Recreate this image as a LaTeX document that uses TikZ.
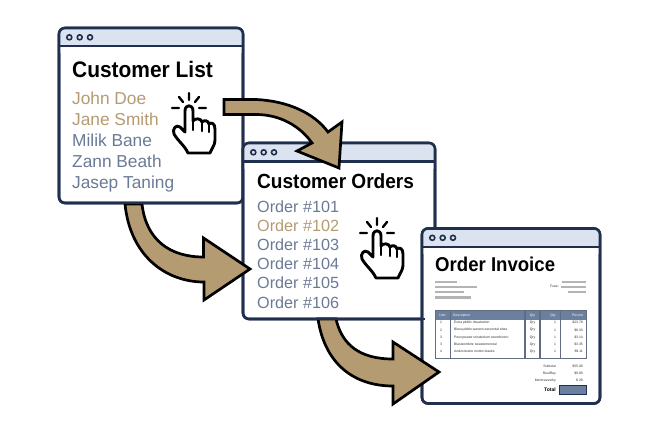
\documentclass[tikz,border=0pt]{standalone}
\usepackage{fontspec}
\setmainfont{Liberation Sans}
\newfontfamily\ttlfont[FakeStretch=0.93]{Liberation Sans}
\usetikzlibrary{calc}
\definecolor{navy}{HTML}{1F2F4D}
\definecolor{barc}{HTML}{DCE3F0}
\definecolor{tan}{HTML}{B59B72}
\definecolor{slate}{HTML}{6B7A96}
\definecolor{headc}{HTML}{6B7F9E}
\definecolor{greyb}{HTML}{B4B4B4}
\definecolor{sepc}{HTML}{5F6C82}
\tikzset{
  winbox/.style={draw=navy,line width=2.6pt,fill=white,rounded corners=6pt,inner sep=0pt,outer sep=0pt},
  barline/.style={draw=navy,line width=2.4pt},
  dotc/.style={draw=navy,line width=1.6pt,fill=barc},
  flow/.style={draw=black,line width=2.7pt,fill=tan,line join=miter,miter limit=6},
  ttl/.style={anchor=base west,inner sep=0pt,font=\ttlfont\fontsize{22.5}{22.5}\selectfont\bfseries},
  lst/.style={anchor=base west,inner sep=0pt,font=\fontsize{17.3}{17.3}\selectfont},
  ord/.style={anchor=base west,inner sep=0pt,font=\fontsize{16.2}{16.2}\selectfont},
  tiny/.style={inner sep=0pt,font=\fontsize{3.4}{3.4}\selectfont,text=black!80},
  greybar/.style={fill=greyb},
  hand/.pic={
    \draw[black,line width=2.9pt,line join=round,line cap=round,fill=white]
      (-4,6) .. controls (-4,-1) and (4,-1) .. (4,6) -- (4,16)
      .. controls (6,13) and (12,13) .. (13,17)
      .. controls (15,15) and (19,15) .. (20,19)
      .. controls (22,17) and (26,18) .. (26,24) -- (26,35)
      .. controls (26,40) and (23,43) .. (21,48) -- (-1,48)
      .. controls (-4,41) and (-11,36) .. (-15,29)
      .. controls (-17,24) and (-13,19) .. (-9,22) -- (-4,27) -- cycle;
    \draw[black,line width=2.4pt,line cap=round]
      (4,16) -- (4,25) (13,17) -- (13,26) (20,19) -- (20,27);
    \draw[black,line width=2.4pt,line cap=round]
      (0,-12) -- (0,-5) (-10,-8) -- (-6,-3) (10,-8) -- (6,-3) (-17,3) -- (-10,3) (10,3) -- (17,3);
  }
}
\newcommand{\winbar}[2]{%
  \fill[barc,rounded corners=6pt] (#1.north west) -- (#1.north east) -- ($(#1.north east)+(0,#2+6)$) [sharp corners] -- ($(#1.north west)+(0,#2+6)$) [rounded corners=6pt] -- cycle;
  \fill[white] ($(#1.north west)+(0,#2)$) rectangle ($(#1.north east)+(0,#2+7)$);
  \draw[barline] ($(#1.north west)+(0,#2)$) -- ($(#1.north east)+(0,#2)$);
  \draw[navy,line width=2.6pt,rounded corners=6pt] (#1.south west) rectangle (#1.north east);
  \draw[dotc] ($(#1.north west)+(10.3,9.3)$) circle (2.5);
  \draw[dotc] ($(#1.north west)+(20.7,9.3)$) circle (2.5);
  \draw[dotc] ($(#1.north west)+(31,9.3)$) circle (2.5);
}
\begin{document}
\begin{tikzpicture}[x=1pt,y=-1pt]
\useasboundingbox[fill=white] (0,0) rectangle (645,429);
% windows
\node[winbox,minimum width=184pt,minimum height=175pt] (w1) at (151,115.5) {};
\winbar{w1}{18}
\node[ttl] (t1) at (72,77) {Customer List};
\node[lst,text=tan] (n1) at (72,104) {John Doe};
\node[lst,text=tan] (n2) at (72,125) {Jane Smith};
\node[lst,text=slate] (n3) at (72,146) {Milik Bane};
\node[lst,text=slate] (n4) at (72,167) {Zann Beath};
\node[lst,text=slate] (n5) at (72,188) {Jasep Taning};
\pic (h1) at (189,105) {hand};

\node[winbox,minimum width=192pt,minimum height=176pt] (w2) at (339,231) {};
\winbar{w2}{18.5}
\node[ttl,font=\ttlfont\fontsize{20.5}{20.5}\selectfont\bfseries] (t2) at (257,188) {Customer Orders};
\node[ord,text=slate] (o1) at (257,212) {Order \#101};
\node[ord,text=tan] (o2) at (257,231) {Order \#102};
\node[ord,text=slate] (o3) at (257,250) {Order \#103};
\node[ord,text=slate] (o4) at (257,269) {Order \#104};
\node[ord,text=slate] (o5) at (257,288) {Order \#105};
\node[ord,text=slate] (o6) at (257,308) {Order \#106};
\pic (h2) at (377,230) {hand};

\node[winbox,minimum width=178pt,minimum height=175pt] (w3) at (511,316) {};
\winbar{w3}{18.5}
\node[ttl,font=\ttlfont\fontsize{20}{20}\selectfont\bfseries] (t3) at (435,271) {Order Invoice};
% grey text bars
\fill[greybar] (435,280.6) rectangle (457,283);
\fill[greybar] (435,285.6) rectangle (477,288);
\fill[greybar] (435,291) rectangle (464,293.4);
\fill[greybar] (435,296.2) rectangle (471,298.6);
\fill[greybar] (562,280.6) rectangle (586,283);
\fill[greybar] (561,285.6) rectangle (586,288);
\fill[greybar] (568,291) rectangle (586,293.4);
\node[tiny,anchor=east] (fee) at (559,286.8) {Fuee:};
% table
\fill[headc] (435,310.5) rectangle (586.5,320);
\draw[navy!70!white,line width=.8pt] (435,310.5) rectangle (586.5,358.5);
\foreach \c in {450.3,525,540,560.3}{\draw[sepc,line width=1.1pt] (\c,310.5) -- (\c,358.5);}
\node[tiny,text=white] (h1t) at (442.5,315.2) {Uno};
\node[tiny,text=white,anchor=west] (h2t) at (453,315.2) {Description};
\node[tiny,text=white] (h3t) at (532.5,315.2) {Qty};
\node[tiny,text=white] (h4t) at (553,315.2) {Qty};
\node[tiny,text=white,anchor=east] (h5t) at (583,315.2) {Pecent};
\foreach \n/\d/\a [count=\i] in {1/Extra pbldic dssatration/\$23.78,2/Blasa pbble waston asscental ahas/\$9.33,3/Pwcopowee srisatraism seonrbiotco/\$3.14,3/Blastzombire swastemerotal/\$3.35,4/Aodzonoaire motion bauks/\$9.11}{
  \pgfmathsetmacro{\yy}{322.7+7.25*(\i-1)}
  \node[tiny] at (441,\yy) {\n};
  \node[tiny,anchor=west] at (454,\yy) {\d};
  \node[tiny] at (532.5,\yy) {Qry};
  \node[tiny] at (555,\yy) {1};
  \node[tiny,anchor=east] at (583,\yy) {\a};
}
% summary
\node[tiny,anchor=east] (s1) at (556,366) {Subtotal};
\node[tiny,anchor=east] (s1v) at (583,366) {\$55.00};
\node[tiny,anchor=east] (s2) at (556,373.3) {RealRay};
\node[tiny,anchor=east] (s2v) at (583,373.3) {\$9.89};
\node[tiny,anchor=east] (s3) at (556,380.7) {Mentrsiavsrky};
\node[tiny,anchor=east] (s3v) at (583,380.7) {\$.28};
\node[tiny,anchor=east,text=black,font=\fontsize{5}{5}\selectfont\bfseries] (s4) at (556,389.5) {Total};
\draw[navy,line width=.8pt,fill=headc] (559.5,385.2) rectangle (586.5,394);
% arrow end points
\coordinate (a1t) at (339,168);
\coordinate (a2t) at (250,269);
\coordinate (a3t) at (439,372);
% arrows
\draw[flow] (224,99.5) -- (256,99.5) .. controls (288,101) and (314,113) .. (328,132) -- (342,122) -- (a1t) -- (297,151) -- (312,143) .. controls (300,126) and (280,114.5) .. (256,114.5) -- (224,114.5) -- cycle;
\draw[flow] (125,204) .. controls (130,255) and (165,282) .. (204,282) -- (204,300) -- (a2t) -- (203.5,238) -- (203.5,257) .. controls (170,257) and (146,240) .. (142,204) -- cycle;
\draw[flow] (318,319) .. controls (325,365) and (355,386) .. (393,386) -- (393,404) -- (a3t) -- (393,342) -- (393,359) .. controls (360,359) and (342,345) .. (336,319) -- cycle;
% window edges over arrow tails
\draw[navy,line width=2.6pt] ($(w1.south west)+(10,0)$) -- ($(w1.south east)+(-10,0)$);
\draw[navy,line width=2.6pt] ($(w2.south west)+(10,0)$) -- ($(w2.south east)+(-10,0)$);
\end{tikzpicture}
\end{document}
